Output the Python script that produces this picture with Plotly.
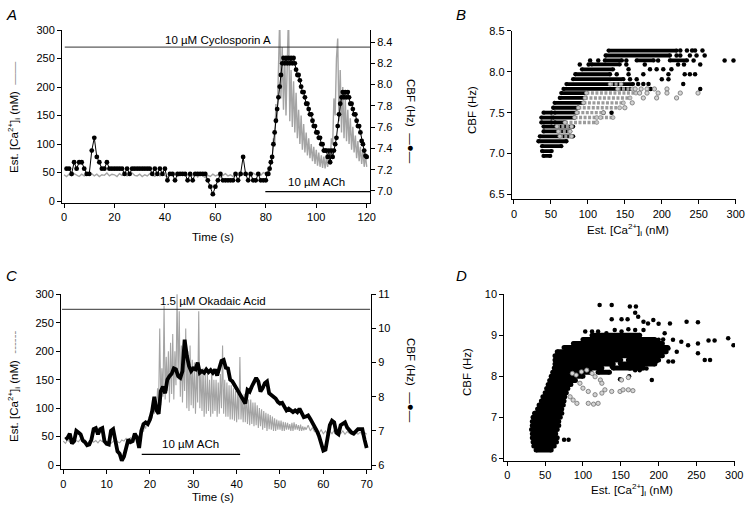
import numpy as np
import plotly.graph_objects as go

# ======================= DATA =======================
# ---- Panel A : Cyclosporin A ----
# Est. [Ca2+]i (nM), 0..79 s every 1 s
ca_a_base = [46, 43, 47, 44, 48, 45, 43, 47, 44, 46, 45, 48, 44, 47, 43, 46, 45, 49, 44, 47,
             46, 43, 48, 45, 47, 44, 46, 49, 45, 44, 47, 43, 46, 44, 48, 45, 43, 47, 44, 46,
             45, 42, 46, 44, 47, 43, 45, 48, 44, 46, 43, 45, 47, 42, 46, 44, 41, 45, 43, 47,
             44, 46, 42, 45, 48, 44, 46, 43, 47, 45, 44, 48, 45, 47, 44, 49, 46, 48, 45, 50]
# Est. [Ca2+]i (nM), 80..120 s every 0.5 s
ca_a_resp = [48, 45, 55, 52, 70, 65, 110, 95, 170, 140,
             260, 320, 180, 270, 160, 250, 150, 240, 330, 140,
             230, 130, 210, 120, 190, 110, 160, 100, 150, 90,
             135, 85, 120, 80, 110, 75, 100, 70, 95, 65,
             90, 62, 85, 60, 80, 58, 78, 57, 76, 60,
             80, 70, 110, 100, 180, 150, 250, 285, 140, 230,
             120, 200, 110, 180, 105, 160, 100, 145, 90, 130,
             85, 115, 75, 105, 70, 95, 65, 90, 60, 80, 60]
# CBF (Hz), 1..79 s every 1 s
cbf_a_base = [7.21, 7.21, 7.16, 7.27, 7.21, 7.27, 7.27, 7.21, 7.16, 7.16,
              7.38, 7.50, 7.32, 7.27, 7.21, 7.21, 7.27, 7.21, 7.21, 7.21,
              7.21, 7.21, 7.21, 7.16, 7.21, 7.16, 7.21, 7.21, 7.21, 7.21,
              7.21, 7.21, 7.21, 7.21, 7.16, 7.21, 7.16, 7.21, 7.16, 7.21,
              7.10, 7.16, 7.16, 7.10, 7.16, 7.16, 7.16, 7.16, 7.10, 7.16,
              7.10, 7.16, 7.16, 7.16, 7.16, 7.16, 7.10, 7.04, 6.97, 7.04,
              7.10, 7.16, 7.10, 7.10, 7.10, 7.10, 7.10, 7.16, 7.10, 7.16,
              7.32, 7.16, 7.10, 7.16, 7.10, 7.10, 7.16, 7.10, 7.10]
# CBF (Hz), 80..120 s every 0.5 s
cbf_a_resp = [7.10, 7.16, 7.16, 7.21, 7.27, 7.32, 7.44, 7.55, 7.66, 7.77,
              7.88, 7.98, 8.09, 8.20, 8.25, 8.20, 8.25, 8.20, 8.25, 8.20,
              8.25, 8.20, 8.25, 8.20, 8.14, 8.09, 8.09, 8.04, 7.98, 7.93,
              7.93, 7.88, 7.82, 7.82, 7.77, 7.72, 7.72, 7.66, 7.61, 7.61,
              7.55, 7.55, 7.50, 7.50, 7.44, 7.44, 7.38, 7.38, 7.38, 7.32,
              7.38, 7.27, 7.38, 7.32, 7.38, 7.44, 7.50, 7.61, 7.72, 7.82,
              7.88, 7.93, 7.88, 7.93, 7.88, 7.93, 7.88, 7.82, 7.82, 7.77,
              7.72, 7.72, 7.66, 7.61, 7.61, 7.55, 7.47, 7.44, 7.38, 7.33, 7.32]
cyclosporin_a_period = [0.3, 121.3]
ach_a_period = [79.8, 121.3]

# ---- Panel B : CBF vs Ca (cyclosporin) ----
b_black_seg_cbf = [8.26, 8.20, 8.14, 8.14, 8.14, 8.09, 8.03, 7.97, 7.91, 7.85, 7.79, 7.74, 7.68,
                   7.62, 7.56, 7.50, 7.50, 7.44, 7.44, 7.38, 7.38, 7.33, 7.27, 7.21, 7.15,
                   7.09, 7.03, 6.97]
b_black_seg_lo = [128, 124, 123, 166, 211, 105, 92, 83, 80, 71, 67, 64, 62,
                  55, 53, 40, 55, 37, 53, 37, 55, 40, 40, 35, 33, 38, 38, 40]
b_black_seg_hi = [220, 211, 146, 189, 234, 143, 134, 130, 148, 161, 157, 98, 96,
                  94, 87, 51, 85, 51, 82, 51, 69, 80, 76, 80, 71, 64, 51, 49]
b_black_dot_ca = [225, 234, 241, 245, 255, 220, 225, 238, 247, 258,
                  103, 114, 152, 195, 243, 285, 297, 89, 101, 152, 177, 222, 230, 252,
                  155, 184, 193, 202, 213, 139, 155, 175, 209, 231, 238, 245,
                  157, 166, 200, 209, 168, 175, 182, 229, 185, 252, 121, 132]
b_black_dot_cbf = [8.26, 8.26, 8.26, 8.26, 8.26, 8.20, 8.20, 8.20, 8.20, 8.20,
                   8.14, 8.14, 8.14, 8.14, 8.14, 8.14, 8.14, 8.09, 8.09, 8.09, 8.09, 8.09, 8.09, 8.09,
                   8.03, 8.03, 8.03, 8.03, 8.03, 7.97, 7.97, 7.97, 7.97, 7.97, 7.97, 7.97,
                   7.91, 7.91, 7.91, 7.91, 7.85, 7.85, 7.85, 7.85, 7.79, 7.79, 7.50, 7.50]
b_gray_seg_cbf = [7.85, 7.79, 7.74, 7.68, 7.62, 7.56, 7.50, 7.44, 7.44, 7.38, 7.33, 7.27, 7.21]
b_gray_seg_lo = [130, 140, 98, 96, 94, 87, 85, 82, 117, 69, 58, 60, 62]
b_gray_seg_hi = [145, 160, 165, 157, 148, 143, 121, 112, 134, 112, 78, 76, 78]
b_gray_dot_ca = [164, 172, 180, 190, 207, 170, 180, 195, 207, 225, 249, 175, 193, 220, 160, 150]
b_gray_dot_cbf = [7.79, 7.79, 7.79, 7.79, 7.79, 7.74, 7.74, 7.74, 7.74, 7.74, 7.74,
                  7.68, 7.68, 7.68, 7.62, 7.56]

# ---- Panel C : Okadaic acid ----
# Est. [Ca2+]i (nM), 0..17.5 s every 0.5 s
ca_c_base = [42, 38, 44, 40, 45, 39, 43, 41, 46, 40, 44, 38, 42, 45, 40, 43, 39, 44, 41, 46,
             40, 43, 38, 42, 45, 41, 39, 44, 42, 47, 43, 48, 45, 50, 46, 52]
# Est. [Ca2+]i (nM), 18..55.75 s every 0.25 s
ca_c_resp = [55, 62, 58, 70, 64, 75, 68, 85, 78, 95, 82, 100, 90, 120, 95, 135,
             110, 240, 105, 170, 120, 280, 115, 190, 130, 200, 110, 215, 125, 230, 115, 200,
             140, 300, 150, 270, 120, 210, 110, 190, 130, 240, 100, 200, 95, 210, 105, 185,
             100, 180, 90, 170, 110, 270, 100, 165, 95, 170, 85, 160, 90, 160, 95, 150,
             85, 165, 90, 150, 95, 150, 85, 145, 90, 160, 100, 210, 90, 150, 85, 145,
             85, 140, 80, 140, 80, 135, 78, 130, 75, 125, 80, 190, 80, 120, 75, 125,
             75, 130, 72, 115, 70, 115, 72, 110, 68, 110, 70, 105, 65, 100, 68, 98,
             62, 95, 65, 92, 60, 90, 63, 88, 62, 85, 60, 82, 60, 80, 62, 78,
             62, 78, 60, 76, 60, 75, 62, 74, 62, 72, 60, 74, 60, 75, 62, 72,
             62, 70, 60, 71, 60, 68, 61, 67]
# Est. [Ca2+]i (nM), 56..70 s every 0.5 s
ca_c_tail = [62, 70, 60, 66, 58, 64, 56, 62, 55, 60, 54, 60, 55, 61, 54, 59, 55, 60, 54, 59,
             56, 60, 55, 58, 54, 58, 53, 57, 54]
# CBF (Hz), 0.5..70 s every 0.5 s
cbf_c = [6.75, 6.80, 6.92, 6.63, 6.70, 7.00, 6.95, 6.90, 6.72, 6.67,
         6.58, 6.60, 6.75, 7.05, 7.08, 6.90, 7.05, 7.08, 6.70, 6.62,
         6.60, 7.00, 7.05, 6.67, 6.40, 6.33, 6.13, 6.25, 6.55, 6.75,
         6.67, 6.70, 6.92, 6.80, 6.50, 7.00, 7.20, 7.25, 7.20, 7.33,
         7.58, 8.00, 7.60, 7.50, 8.17, 8.30, 8.10, 8.50, 8.60, 8.67,
         8.83, 8.80, 8.60, 8.55, 8.75, 9.67, 9.20, 8.90, 8.75, 8.83,
         8.80, 9.00, 8.70, 8.75, 8.70, 8.80, 8.72, 8.78, 8.70, 8.80,
         8.62, 8.80, 9.05, 9.08, 8.85, 8.83, 8.50, 8.45, 8.35, 8.25,
         8.10, 8.00, 7.95, 7.80, 8.20, 8.15, 8.30, 8.40, 8.55, 8.45,
         8.15, 8.25, 8.40, 8.45, 8.10, 8.05, 8.00, 7.95, 7.85, 7.80,
         7.82, 7.70, 7.60, 7.65, 7.58, 7.55, 7.60, 7.55, 7.65, 7.50,
         7.40, 7.42, 7.45, 7.35, 7.25, 7.10, 7.00, 6.85, 6.60, 6.42,
         6.45, 6.80, 7.17, 7.30, 7.25, 6.95, 6.90, 7.17, 7.20, 7.25,
         7.10, 7.00, 6.95, 6.92, 7.00, 7.05, 7.05, 7.05, 6.75, 6.50]
okadaic_c_period = [-0.3, 70.8]
ach_c_period = [18.1, 40.8]

# ---- Panel D : CBF vs Ca (okadaic acid) ----
d_seg_cbf = [6.20, 6.30, 6.40, 6.50, 6.60, 6.70, 6.80, 6.90, 7.00, 7.10, 7.20, 7.30, 7.40,
             7.50, 7.60, 7.70, 7.80, 7.90, 8.00, 8.10, 8.10, 8.20, 8.20, 8.30, 8.30,
             8.40, 8.40, 8.50, 8.60, 8.70, 8.80, 8.90, 9.00]
d_seg_lo = [38, 35, 34, 33, 33, 32, 33, 33, 34, 36, 40, 42, 45,
            47, 50, 52, 54, 56, 58, 60, 120, 62, 140, 63, 150,
            63, 160, 63, 66, 75, 88, 100, 112]
d_seg_hi = [58, 62, 65, 66, 64, 66, 68, 68, 70, 72, 72, 74, 75,
            76, 78, 80, 84, 90, 100, 110, 135, 125, 180, 140, 195,
            150, 200, 205, 210, 212, 205, 195, 175]
d_black_dot_ca = [122, 138, 162, 170, 169, 138, 151, 159, 173, 180, 186, 193, 200, 215, 237, 252,
                  103, 112, 120, 131, 142, 151, 160, 169, 180, 208, 87, 200, 206, 219, 230, 239,
                  252, 252, 266, 274, 292, 299, 224, 213, 197, 184, 162, 169, 175, 138, 149,
                  213, 219, 261, 268, 191, 75, 81, 149, 161]
d_black_dot_cbf = [9.74, 9.74, 9.70, 9.70, 9.55, 9.39, 9.39, 9.39, 9.45, 9.33, 9.29, 9.37, 9.28, 9.29, 9.33, 9.32,
                   9.09, 9.09, 9.09, 9.05, 9.13, 9.09, 9.15, 9.13, 9.13, 9.05, 8.80, 8.89, 8.90, 8.89, 8.84, 8.76,
                   8.80, 8.56, 8.87, 8.87, 8.93, 8.76, 8.60, 8.68, 8.36, 8.19, 8.19, 8.15, 8.15, 8.23, 8.32,
                   8.36, 8.36, 8.40, 8.40, 7.91, 6.45, 6.45, 7.93, 8.00]
d_gray_dot_ca = [86, 91, 98, 105, 112, 116, 123, 125, 96, 100, 107, 116, 125, 129, 138, 149, 153,
                 160, 166, 83, 87, 92, 107, 114, 120, 151, 160]
d_gray_dot_cbf = [8.07, 8.03, 8.11, 8.15, 8.07, 7.99, 7.91, 7.83, 7.83, 7.71, 7.63, 7.55, 7.59,
                  7.67, 7.63, 7.63, 7.67, 7.67, 7.65, 7.50, 7.42, 7.34, 7.34, 7.32, 7.34, 7.91, 7.97]

# ======================= FIGURE =======================
W, H = 750, 514
FONT = "Liberation Sans, Arial, Helvetica, sans-serif"
GRAY = "#a4a4a4"


def px(x):
    return x / W


def py(y):
    return 1 - y / H


def segs(lv, lo, hi):
    xs, ys = [], []
    for l, a, b in zip(lv, lo, hi):
        xs += [a, b, None]
        ys += [l, l, None]
    return xs, ys


fig = go.Figure()

# ---- A ----
t_a_ca = list(np.arange(len(ca_a_base)) * 1.0) + list(80 + 0.5 * np.arange(len(ca_a_resp)))
t_a_cbf = list(1 + np.arange(len(cbf_a_base)) * 1.0) + list(80 + 0.5 * np.arange(len(cbf_a_resp)))
fig.add_trace(go.Scatter(x=t_a_ca, y=ca_a_base + ca_a_resp, mode="lines",
                         line=dict(color=GRAY, width=1.4), xaxis="x", yaxis="y"))
fig.add_trace(go.Scatter(x=cyclosporin_a_period, y=[270, 270], mode="lines",
                         line=dict(color="#333", width=1), xaxis="x", yaxis="y"))
fig.add_trace(go.Scatter(x=ach_a_period, y=[16.3, 16.3], mode="lines",
                         line=dict(color="black", width=1.2), xaxis="x", yaxis="y"))
fig.add_trace(go.Scatter(x=t_a_cbf, y=cbf_a_base + cbf_a_resp, mode="lines+markers",
                         line=dict(color="black", width=1),
                         marker=dict(color="black", size=4.8), xaxis="x", yaxis="y2"))

# ---- B ----
bx, by = segs(b_black_seg_cbf, b_black_seg_lo, b_black_seg_hi)
fig.add_trace(go.Scatter(x=bx, y=by, mode="lines+markers", line=dict(color="black", width=3.8),
                         marker=dict(color="black", size=4.3), xaxis="x2", yaxis="y3"))
fig.add_trace(go.Scatter(x=b_black_dot_ca, y=b_black_dot_cbf, mode="markers",
                         marker=dict(color="black", size=4.5), xaxis="x2", yaxis="y3"))
gx, gy = segs(b_gray_seg_cbf, b_gray_seg_lo, b_gray_seg_hi)
fig.add_trace(go.Scatter(x=gx, y=gy, mode="lines+markers",
                         line=dict(color="#9c9c9c", width=3.4, dash="3px,1.5px"),
                         marker=dict(color="#c8c8c8", size=4, line=dict(color="#777", width=0.6)),
                         xaxis="x2", yaxis="y3"))
fig.add_trace(go.Scatter(x=b_gray_dot_ca, y=b_gray_dot_cbf, mode="markers",
                         marker=dict(color="#d4d4d4", size=4.3, line=dict(color="#6e6e6e", width=0.8)),
                         xaxis="x2", yaxis="y3"))

# ---- C ----
t_c_ca = (list(0.5 * np.arange(len(ca_c_base)))
          + list(18 + 0.25 * np.arange(len(ca_c_resp)))
          + list(56 + 0.5 * np.arange(len(ca_c_tail))))
t_c_cbf = list(0.5 + 0.5 * np.arange(len(cbf_c)))
fig.add_trace(go.Scatter(x=t_c_ca, y=ca_c_base + ca_c_resp + ca_c_tail, mode="lines",
                         line=dict(color=GRAY, width=1.1), xaxis="x3", yaxis="y4"))
fig.add_trace(go.Scatter(x=okadaic_c_period, y=[273.6, 273.6], mode="lines",
                         line=dict(color="#333", width=1), xaxis="x3", yaxis="y4"))
fig.add_trace(go.Scatter(x=ach_c_period, y=[18.8, 18.8], mode="lines",
                         line=dict(color="black", width=1.2), xaxis="x3", yaxis="y4"))
fig.add_trace(go.Scatter(x=t_c_cbf, y=cbf_c, mode="lines", line=dict(color="black", width=3.8),
                         xaxis="x3", yaxis="y5"))

# ---- D ----
dx, dy = segs(d_seg_cbf, d_seg_lo, d_seg_hi)
fig.add_trace(go.Scatter(x=dx, y=dy, mode="lines+markers", line=dict(color="black", width=5),
                         marker=dict(color="black", size=5), xaxis="x4", yaxis="y6"))
fig.add_trace(go.Scatter(x=d_black_dot_ca, y=d_black_dot_cbf, mode="markers",
                         marker=dict(color="black", size=4.5), xaxis="x4", yaxis="y6"))
fig.add_trace(go.Scatter(x=d_gray_dot_ca, y=d_gray_dot_cbf, mode="markers",
                         marker=dict(color="#d4d4d4", size=4.3, line=dict(color="#6e6e6e", width=0.8)),
                         xaxis="x4", yaxis="y6"))

tickfont = dict(family=FONT, size=11, color="black")
ax = dict(showline=True, linecolor="black", linewidth=1, ticks="outside", ticklen=4,
          tickcolor="black", tickwidth=1, showgrid=False, zeroline=False, tickfont=tickfont,
          automargin=False)

fig.update_layout(
    width=W, height=H, margin=dict(l=0, r=0, t=0, b=0, autoexpand=False),
    paper_bgcolor="white", plot_bgcolor="white", showlegend=False,
    font=dict(family=FONT, size=11, color="black"),
    xaxis=dict(ax, domain=[px(62), px(370)], range=[-0.8, 121.3], anchor="y",
               tickvals=[0, 20, 40, 60, 80, 100, 120]),
    yaxis=dict(ax, domain=[py(203), py(30)], range=[-3.5, 300], anchor="x",
               tickvals=[0, 50, 100, 150, 200, 250, 300]),
    yaxis2=dict(ax, overlaying="y", side="right", anchor="x", range=[6.887, 8.513],
                tickvals=[7.0, 7.2, 7.4, 7.6, 7.8, 8.0, 8.2, 8.4], tickformat=".1f"),
    xaxis2=dict(ax, domain=[px(511.7), px(736)], range=[-3.1, 300.4], anchor="y3",
                tickvals=[0, 50, 100, 150, 200, 250, 300]),
    yaxis3=dict(ax, domain=[py(199.3), py(30.5)], range=[6.439, 8.506], anchor="x2",
                tickvals=[6.5, 7.0, 7.5, 8.0, 8.5], tickformat=".1f"),
    xaxis3=dict(ax, domain=[px(61), px(371)], range=[-0.53, 71.0], anchor="y4",
                tickvals=[0, 10, 20, 30, 40, 50, 60, 70]),
    yaxis4=dict(ax, domain=[py(469.3), py(294)], range=[-7.5, 300.5], anchor="x3",
                tickvals=[0, 50, 100, 150, 200, 250, 300]),
    yaxis5=dict(ax, overlaying="y4", side="right", anchor="x3", range=[5.875, 11.008],
                tickvals=[6, 7, 8, 9, 10, 11]),
    xaxis4=dict(ax, domain=[px(504.3), px(735)], range=[-4, 301], anchor="y6",
                tickvals=[0, 50, 100, 150, 200, 250, 300]),
    yaxis6=dict(ax, domain=[py(461), py(294)], range=[5.934, 10.007], anchor="x4",
                tickvals=[6, 7, 8, 9, 10]),
)

ca_title = "Est. [Ca<sup>2+</sup>]<sub>i</sub> (nM)"
ann = []


def paper_text(text, x, y, angle=0, size=11.5):
    ann.append(dict(text=text, x=px(x), y=py(y), xref="paper", yref="paper", showarrow=False,
                    textangle=angle, xanchor="center", yanchor="middle",
                    font=dict(family=FONT, size=size, color="black")))


def axis_text(text, x, y, xr, yr, size=11.5):
    ann.append(dict(text=text, x=x, y=y, xref=xr, yref=yr, showarrow=False,
                    xanchor="center", yanchor="middle",
                    font=dict(family=FONT, size=size, color="black")))


paper_text("<i>A</i>", 11, 14, size=15)
paper_text("<i>B</i>", 461, 14, size=15)
paper_text("<i>C</i>", 11, 275, size=15)
paper_text("<i>D</i>", 461, 275, size=15)

paper_text(ca_title + "  <span style='color:#888'>——</span>", 14, 117, angle=-90)
paper_text("CBF (Hz)  —●—", 411, 121, angle=90)
paper_text("Time (s)", 213, 237)
paper_text("CBF (Hz)", 472, 110, angle=-90)
paper_text(ca_title, 628, 230)
paper_text(ca_title + "  <span style='color:#888'>------</span>", 14, 387, angle=-90)
paper_text("CBF (Hz)  —●—", 411, 380, angle=90)
paper_text("Time (s)", 213, 497)
paper_text("CBF (Hz)", 467, 372, angle=-90)
paper_text(ca_title, 632, 490)

axis_text("10 µM Cyclosporin A", 61, 282, "x", "y")
axis_text("10 µM ACh", 100, 33, "x", "y")
axis_text("1.5 µM Okadaic Acid", 34.6, 288, "x3", "y4")
axis_text("10 µM ACh", 29.4, 37, "x3", "y4")

fig.update_layout(annotations=ann)
fig.write_html("out.html", config={"displayModeBar": False, "staticPlot": True})

# remove the default page margin so the 750x514 figure fills the window exactly
with open("out.html", "r", encoding="utf-8") as f:
    html = f.read()
html = html.replace("<head>", "<head><style>html,body{margin:0;padding:0;overflow:hidden;}</style>", 1)
with open("out.html", "w", encoding="utf-8") as f:
    f.write(html)
